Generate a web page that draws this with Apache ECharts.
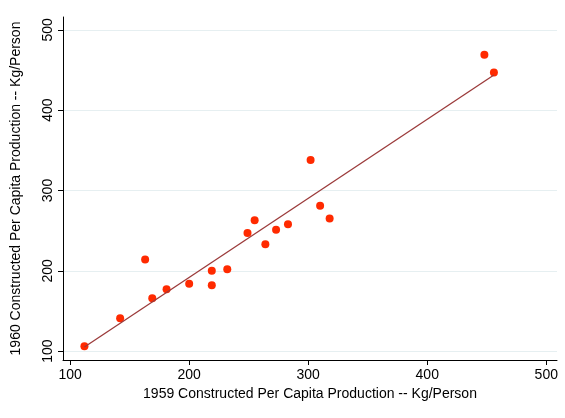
<!DOCTYPE html>
<html><head><meta charset="utf-8">
<script src="https://cdn.jsdelivr.net/npm/echarts@6/dist/echarts.min.js"></script>
<style>html,body{margin:0;background:#fff}#c{width:565px;height:418px}</style>
</head><body><div id="c"></div>
<script>
var x1959 = [112, 142, 163, 169, 181, 200, 219, 219, 232, 249, 255, 264, 273, 283, 302, 310, 318, 448, 456];
var y1960 = [106, 141, 214, 166, 177, 184, 200, 182, 202, 247, 263, 233, 251, 258, 338, 281, 265, 469, 447];
var ticks = [100, 200, 300, 400, 500];

var pts = x1959.map(function (v, i) { return [v, y1960[i]]; });
// least squares fit
var n = pts.length, sx = 0, sy = 0, sxx = 0, sxy = 0;
pts.forEach(function (p) { sx += p[0]; sy += p[1]; sxx += p[0] * p[0]; sxy += p[0] * p[1]; });
var b = (n * sxy - sx * sy) / (n * sxx - sx * sx), a = (sy - b * sx) / n;
var xmin = Math.min.apply(null, x1959), xmax = Math.max.apply(null, x1959);
var fit = [[xmin, a + b * xmin], [xmax, a + b * xmax]];

var chart = echarts.init(document.getElementById("c"));
var font = "Liberation Sans";
chart.setOption({
  animation: false,
  grid: { left: 63, right: 8, top: 17, bottom: 58 },
  xAxis: {
    type: "value", min: 94, max: 509,
    name: "1959 Constructed Per Capita Production -- Kg/Person",
    nameLocation: "middle", nameGap: 26,
    nameTextStyle: { color: "#000", fontSize: 14, fontFamily: font },
    axisLine: { show: true, lineStyle: { color: "#000" } },
    axisTick: { show: true, customValues: ticks, length: 5, lineStyle: { color: "#000" } },
    axisLabel: { customValues: ticks, color: "#000", fontSize: 14, fontFamily: font, margin: 8 },
    splitLine: { show: false }
  },
  yAxis: {
    type: "value", min: 89, max: 516,
    name: "1960 Constructed Per Capita Production -- Kg/Person",
    nameLocation: "middle", nameGap: 40,
    nameTextStyle: { color: "#000", fontSize: 14, fontFamily: font },
    axisLine: { show: true, lineStyle: { color: "#000" } },
    axisTick: { show: true, customValues: ticks, length: 5, lineStyle: { color: "#000" } },
    axisLabel: { customValues: ticks, color: "#000", fontSize: 14, fontFamily: font, rotate: 90, margin: 8 },
    splitLine: { show: true, customValues: ticks, lineStyle: { color: "#e6eff1" } }
  },
  series: [
    {
      type: "line", data: fit, symbol: "none", z: 3,
      lineStyle: { color: "#9b3a3a", width: 1.3 }
    },
    {
      type: "scatter", data: pts, symbolSize: 8, z: 2,
      itemStyle: { color: "#ff2a00", opacity: 1 }
    }
  ]
});
</script></body></html>
